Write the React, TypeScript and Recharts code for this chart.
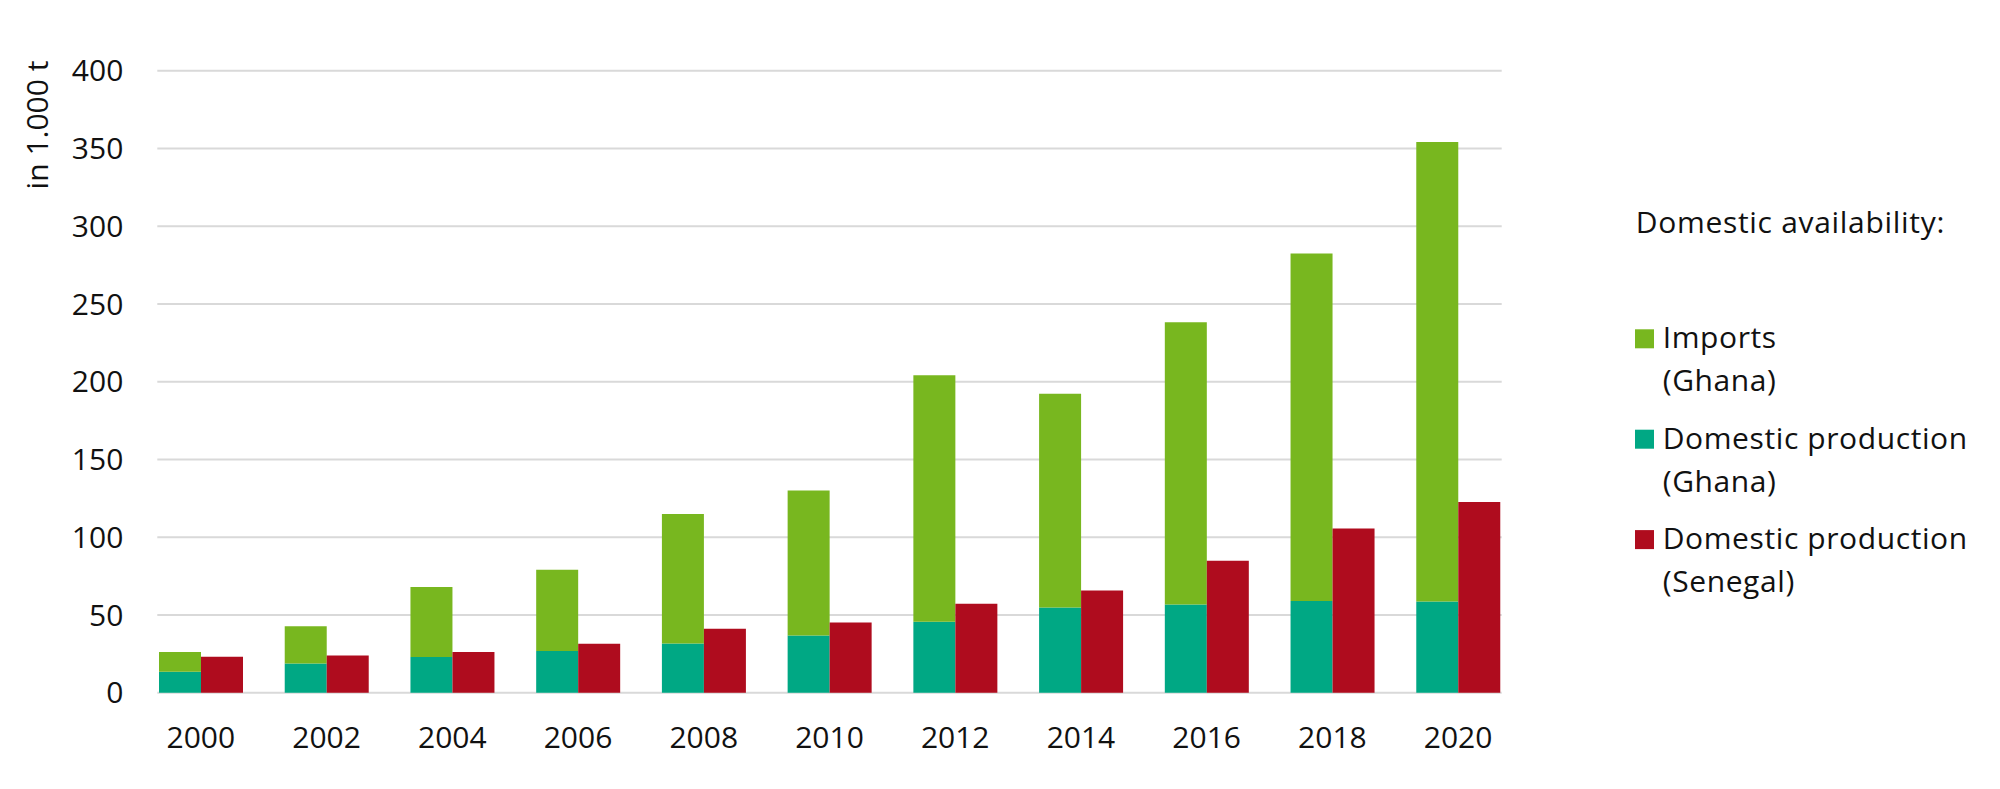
import React from 'react';
import { BarChart, Bar, XAxis, YAxis, CartesianGrid } from 'recharts';

const years = ['2000', '2002', '2004', '2006', '2008', '2010', '2012', '2014', '2016', '2018', '2020'];
const ghanaProduction = [13.5, 18.8, 22.9, 26.8, 31.7, 36.8, 45.6, 54.8, 56.8, 58.9, 58.7];
const ghanaImports = [12.6, 24.0, 45.0, 52.2, 83.3, 93.2, 158.6, 137.4, 181.5, 223.5, 295.5];
const senegalProduction = [23.1, 24.0, 26.1, 31.5, 41.1, 45.2, 57.2, 65.8, 84.8, 105.6, 122.7];
const yTicks = [0, 50, 100, 150, 200, 250, 300, 350, 400];

const legendTitle = 'Domestic availability:';
const legendItems = [
  { color: '#78B71F', lines: ['Imports', '(Ghana)'] },
  { color: '#00A884', lines: ['Domestic production', '(Ghana)'] },
  { color: '#AF0C1E', lines: ['Domestic production', '(Senegal)'] },
];

const data = years.map((y, i) => ({
  year: y,
  ghanaProduction: ghanaProduction[i],
  ghanaImports: ghanaImports[i],
  senegalProduction: senegalProduction[i],
}));

const FONT = '"Open Sans", "Noto Sans", sans-serif';

const LegendBox = () => (
  <svg width={370} height={430} style={{ position: 'absolute', left: 1630, top: 180 }}>
    <text x={5.7} y={53.3} fontFamily={FONT} fontSize={30} letterSpacing={0.7} fill="#111">
      {legendTitle}
    </text>
    {legendItems.map((it, i) => {
      const base = 168.3 + i * 100.4;
      return (
        <g key={i}>
          <rect x={5} y={base - 19} width={19} height={19} fill={it.color} />
          {it.lines.map((ln, j) => (
            <text key={j} x={32.7} y={base + j * 43} fontFamily={FONT} fontSize={30} letterSpacing={0.6} fill="#111">
              {ln}
            </text>
          ))}
        </g>
      );
    })}
  </svg>
);

export default function App() {
  return (
    <div style={{ position: 'absolute', left: 0, top: 0, width: 2000, height: 789, background: '#fff' }}>
      <BarChart
        width={2000}
        height={789}
        data={data}
        margin={{ top: 70.7, right: 498.3, bottom: 36.3, left: 0 }}
        barGap={0}
        barSize={42}
      >
        <CartesianGrid vertical={false} stroke="#d9d9d9" strokeWidth={2} />
        <XAxis
          dataKey="year"
          axisLine={false}
          tickLine={false}
          tickSize={0}
          tickMargin={34}
          height={60}
          padding={{ left: -19.3, right: -19.3 }}
          interval={0}
          tick={{ fontFamily: FONT, fontSize: 30, fill: '#111' }}
        />
        <YAxis
          domain={[0, 400]}
          ticks={yTicks}
          axisLine={false}
          tickLine={false}
          tickSize={0}
          tickMargin={34}
          width={157.3}
          interval={0}
          tick={{ fontFamily: FONT, fontSize: 30, fill: '#111' }}
        />
        <Bar dataKey="ghanaProduction" stackId="ghana" fill="#00A884" isAnimationActive={false} />
        <Bar dataKey="ghanaImports" stackId="ghana" fill="#78B71F" isAnimationActive={false} />
        <Bar dataKey="senegalProduction" fill="#AF0C1E" isAnimationActive={false} />
      </BarChart>
      <LegendBox />
      <svg width={80} height={260} style={{ position: 'absolute', left: 0, top: 0 }}>
        <text
          transform="translate(48,125) rotate(-90)"
          textAnchor="middle"
          fontFamily={FONT}
          fontSize={30}
          fill="#111"
        >
          in 1.000 t
        </text>
      </svg>
    </div>
  );
}
